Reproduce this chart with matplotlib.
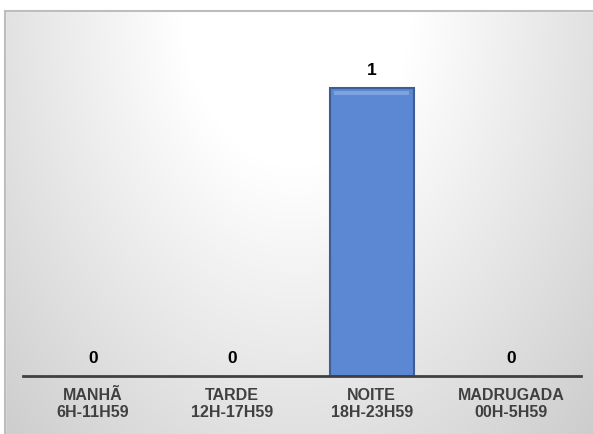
import numpy as np
import matplotlib.pyplot as plt
from matplotlib.patches import Rectangle

categories = ['MANHÃ\n6H-11H59', 'TARDE\n12H-17H59', 'NOITE\n18H-23H59', 'MADRUGADA\n00H-5H59']
values = [0, 0, 1, 0]

fonte = ['Liberation Sans Narrow', 'Liberation Sans', 'DejaVu Sans']

fig = plt.figure(figsize=(5.93, 4.34), dpi=100)

# fundo com gradiente radial (branco no topo, cinza nas bordas)
bg = fig.add_axes([0, 0, 1, 1])
yy, xx = np.mgrid[0:434, 0:593]
d = np.sqrt(((xx - 296) / 330.0) ** 2 + ((yy - 0) / 480.0) ** 2)
g = 1.0 - 0.16 * np.clip(d - 0.35, 0, None) / 0.75
img = np.dstack([g, g, g])
bg.imshow(img, extent=[0, 593, 434, 0], aspect='auto')
bg.add_patch(Rectangle((0, 0), 5, 434, color='white'))
bg.add_patch(Rectangle((0, 0), 593, 11, color='white'))
bg.plot([5, 593], [11, 11], color='#bdbdbd', lw=1.5)
bg.plot([5, 5], [11, 434], color='#bdbdbd', lw=1.5)
bg.set_xlim(0, 593)
bg.set_ylim(434, 0)
bg.axis('off')

ax = fig.add_axes([23 / 593, (434 - 376) / 434, 558 / 593, 330 / 434])
ax.patch.set_alpha(0)
x = np.arange(len(categories))
bars = ax.bar(x, values, width=0.6, color='#5b87d3', edgecolor='#3d5d94', linewidth=1.5)
for b, v in zip(bars, values):
    if v == 0:
        b.set_linewidth(0)
    else:
        # realce do chanfro no topo
        ax.add_patch(Rectangle((b.get_x() + 0.03, v - 0.025), b.get_width() - 0.06, 0.015,
                               color='#7da2e0', lw=0))
ax.set_xlim(-0.5, len(categories) - 0.5)
ax.set_ylim(0, 1.146)

for xi, v in zip(x, values):
    ax.text(xi, v + 0.035, str(v), ha='center', va='bottom', fontsize=12.5,
            fontweight='bold', family=fonte, color='black')

ax.set_xticks(x)
ax.set_xticklabels(categories, fontsize=11.5, fontweight='bold', family=fonte,
                   color='#404040', linespacing=1.1)
ax.tick_params(axis='x', length=0, pad=9)
ax.set_yticks([])
for s in ['top', 'right', 'left']:
    ax.spines[s].set_visible(False)
ax.spines['bottom'].set_color('#404040')
ax.spines['bottom'].set_linewidth(2)

fig.savefig('out.png', dpi=100)
